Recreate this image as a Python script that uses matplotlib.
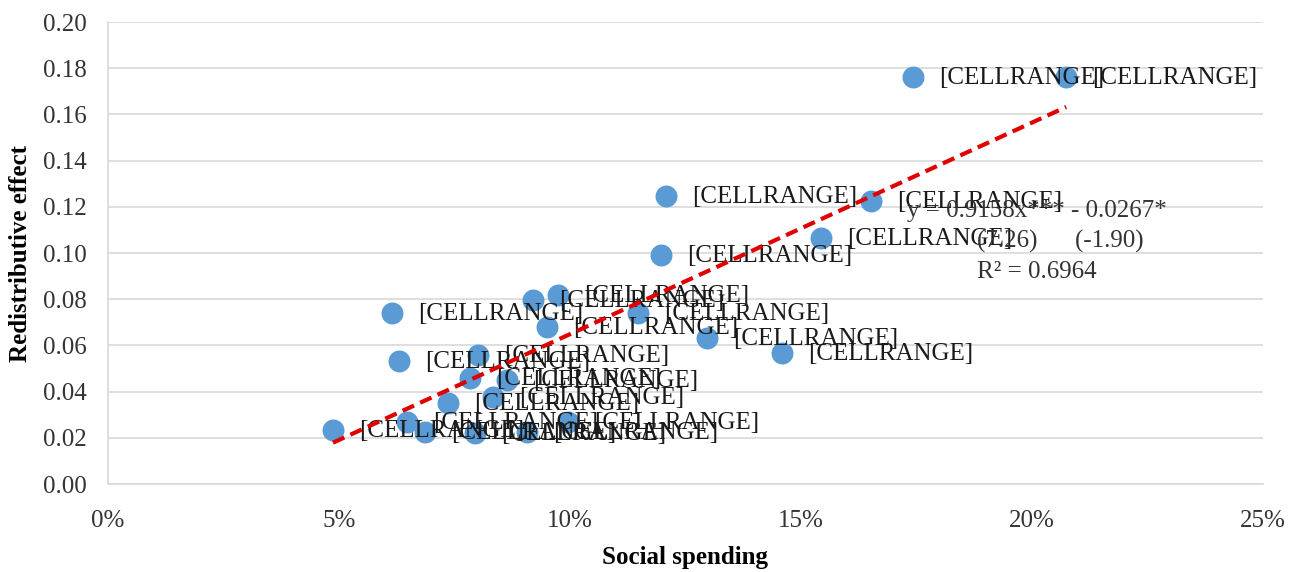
import matplotlib
matplotlib.use("Agg")
import matplotlib.pyplot as plt
import numpy as np
from matplotlib.ticker import FuncFormatter

plt.rcParams['font.family'] = ['Liberation Serif', 'DejaVu Serif']

# gasto social (fraccion del PIB) y efecto redistributivo
gasto = [0.0487, 0.0615, 0.0630, 0.0647, 0.0686, 0.0736, 0.0784, 0.0801,
         0.0833, 0.0864, 0.0794, 0.0907, 0.0920, 0.0974, 0.0950, 0.0996,
         0.1147, 0.1197, 0.1208, 0.1297, 0.1459, 0.1543, 0.1652, 0.1742,
         0.2074]
efecto = [0.0234, 0.0740, 0.0532, 0.0268, 0.0225, 0.0351, 0.0459, 0.0558,
          0.0377, 0.0450, 0.0221, 0.0225, 0.0797, 0.0818, 0.0680, 0.0268,
          0.0740, 0.0991, 0.1247, 0.0632, 0.0567, 0.1065, 0.1225, 0.1762,
          0.1762]
etiquetas = ["[CELLRANGE]"] * len(gasto)

pendiente = 0.9158
intercepto = -0.0267
ecuacion = ["y = 0.9158x*** - 0.0267*", "(7.26)      (-1.90)", "R² = 0.6964"]

fs = 18
fig = plt.figure(figsize=(12.93, 5.72), dpi=100)
ax = fig.add_axes([0.0835, 0.1538, 0.8933, 0.8077])

ax.scatter(gasto, efecto, s=250, color="#5B9BD5", zorder=3, linewidths=0)
for x, y, t in zip(gasto, efecto, etiquetas):
    ax.annotate(t, (x, y), xytext=(19, -0.5), textcoords="offset points",
                va="center", ha="left", fontsize=fs, color="#1a1a1a", zorder=4)

xs = np.array([min(gasto), max(gasto)])
ax.plot(xs, pendiente * xs + intercepto, color="#E00000", linestyle=(0, (3, 1.6)),
        linewidth=3, zorder=5)

ax.text(0.1730, 0.1180, ecuacion[0], fontsize=fs, color="#333333", va="center", zorder=6)
ax.text(0.1880, 0.1050, ecuacion[1], fontsize=fs, color="#333333", va="center", zorder=6)
ax.text(0.1880, 0.0920, ecuacion[2], fontsize=fs, color="#333333", va="center", zorder=6)

ax.set_xlim(0, 0.25)
ax.set_ylim(0, 0.20)
ax.set_xticks(np.arange(0, 0.251, 0.05))
ax.set_yticks(np.arange(0, 0.201, 0.02))
ax.xaxis.set_major_formatter(FuncFormatter(lambda v, p: f"{v*100:.0f}%"))
ax.yaxis.set_major_formatter(FuncFormatter(lambda v, p: f"{v:.2f}"))
ax.tick_params(axis="both", length=0, labelsize=fs, colors="#333333")
ax.tick_params(axis="x", pad=19)
ax.tick_params(axis="y", pad=15)

ax.grid(axis="y", color="#D9D9D9", linewidth=1.2)
ax.set_axisbelow(True)
for s in ["top", "right"]:
    ax.spines[s].set_visible(False)
for s in ["left", "bottom"]:
    ax.spines[s].set_color("#D9D9D9")
    ax.spines[s].set_linewidth(1.2)

ax.set_xlabel("Social spending", fontsize=fs, fontweight="bold", labelpad=10)
ax.set_ylabel("Redistributive effect", fontsize=fs, fontweight="bold", labelpad=8)

fig.savefig("out.png", dpi=100)
